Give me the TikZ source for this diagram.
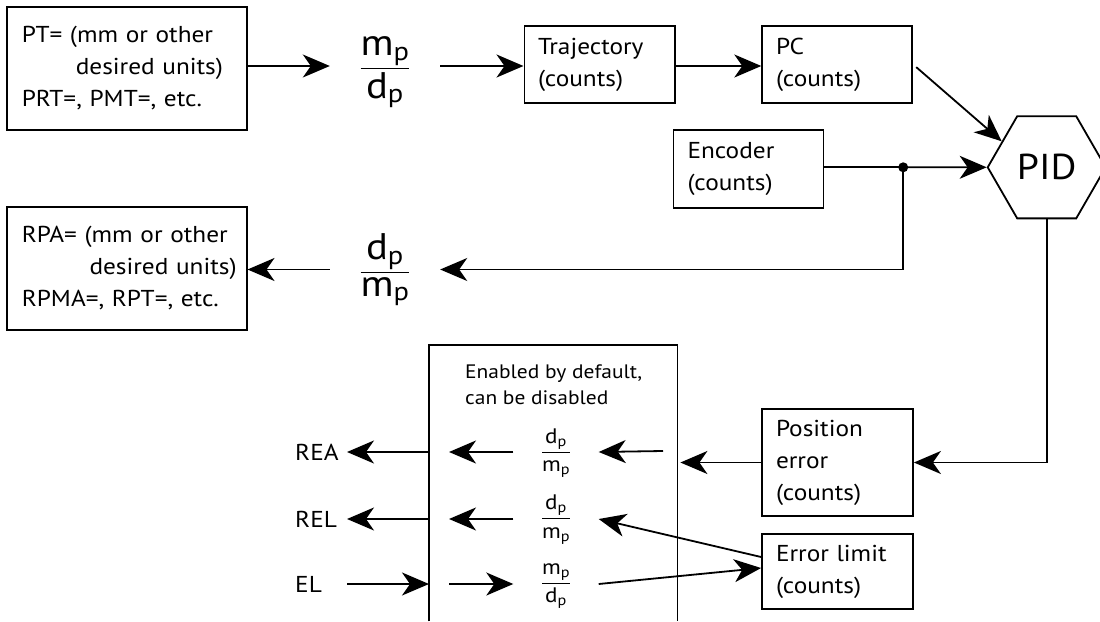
\documentclass[tikz,border=0pt]{standalone}
\usepackage{fontspec}
\setmainfont{PT Sans}[FakeStretch=1.1]
\usepackage{amsmath}
\usetikzlibrary{arrows.meta,shapes.geometric}
\begin{document}
\begin{tikzpicture}[x=1pt,y=-1pt,
  line/.style={line width=1.8pt},
  arr/.style={line, -{Stealth[length=27pt,width=23pt,inset=8pt]}},
  box/.style={draw, line width=1.8pt, inner sep=0pt, align=left, font=\fontsize{23}{32}\selectfont},
  bigfrac/.style={inner sep=0pt, minimum width=110pt, anchor=base, font=\fontsize{37}{44}\selectfont},
  smallfrac/.style={inner sep=0pt, minimum width=85pt, anchor=base, font=\fontsize{21}{25}\selectfont},
  lbl/.style={inner sep=0pt, anchor=west, font=\fontsize{23}{26}\selectfont}]
\useasboundingbox (0,0) rectangle (1100,621);

% boxes
\node[box, minimum width=239.6pt, minimum height=123pt, text width=210pt] (in) at (126.8,68.5)
  {\mbox{PT= (mm or other}\\\mbox{\hspace*{54pt}desired units)}\\\mbox{PRT=, PMT=, etc.}};
\node[box, minimum width=150.8pt, minimum height=77pt, text width=123.6pt] (traj) at (599.8,64.5)
  {Trajectory\\(counts)};
\node[box, minimum width=150.1pt, minimum height=77pt, text width=122.5pt] (pc) at (837.25,64.5)
  {PC\\(counts)};
\node[box, minimum width=150.1pt, minimum height=77.7pt, text width=122pt] (enc) at (748.5,168.9)
  {Encoder\\(counts)};
\node[box, minimum width=239.6pt, minimum height=123.3pt, text width=210pt] (out) at (126.8,268.3)
  {\mbox{RPA= (mm or other}\\\mbox{\hspace*{67.7pt}desired units)}\\\mbox{RPMA=, RPT=, etc.}};
\node[box, minimum width=151pt, minimum height=107pt, text width=123pt] (perr) at (837.5,462.5)
  {Position\\error\\(counts)};
\node[box, minimum width=151pt, minimum height=75pt, text width=123pt] (elim) at (837.5,571.5)
  {Error limit\\(counts)};
\node[draw, line, regular polygon, regular polygon sides=6, minimum size=118pt, inner sep=0pt,
  font=\fontsize{36}{40}\selectfont] (pid) at (1046.7,167.3) {PID};

% big open box
\node[minimum width=248pt, minimum height=276pt, inner sep=0pt, anchor=north west] (big) at (429,345) {};
\draw[line] (big.south west) |- (big.north east) -- (big.south east);
\node[inner sep=0pt, anchor=west, align=left, font=\fontsize{19.5}{26}\selectfont] (note) at (465,385)
  {Enabled by default,\\can be disabled};

% fractions
\node[bigfrac] (f1) at (385,75) {\(\dfrac{\text{m}_{\text{p}}}{\text{d}_{\text{p}}}\)};
\node[bigfrac] (f2) at (385,279) {\(\dfrac{\text{d}_{\text{p}}}{\text{m}_{\text{p}}}\)};
\node[smallfrac] (s1) at (556,457.5) {\(\dfrac{\text{d}_{\text{p}}}{\text{m}_{\text{p}}}\)};
\node[smallfrac] (s2) at (556,524) {\(\dfrac{\text{d}_{\text{p}}}{\text{m}_{\text{p}}}\)};
\node[smallfrac] (s3) at (556,588.5) {\(\dfrac{\text{m}_{\text{p}}}{\text{d}_{\text{p}}}\)};

% labels
\node[lbl] (rea) at (295,452) {REA};
\node[lbl] (rel) at (295,519) {REL};
\node[lbl] (el) at (295,584) {EL};

% helper coordinates
\coordinate (r1) at (0,66);
\coordinate (r2) at (0,269.5);
\coordinate (ra) at (0,452);
\coordinate (rb) at (0,519);
\coordinate (rc) at (0,584);
\coordinate (j) at (903.2,167.3);
\coordinate (ix) at (449,0);
\coordinate (ox) at (347,0);
\coordinate (t1) at (663,451);

% top chain
\draw[arr] (in.east |- r1) -- (f1.west |- r1);
\draw[arr] (f1.east |- r1) -- (traj.west |- r1);
\draw[arr] (traj.east |- r1) -- (pc.west |- r1);
\draw[arr, shorten <=4pt] (pc.east) -- (pid.150);
\draw[line] (enc.east |- j) -- (j);
\draw[arr] (j) -- (pid.west);
\fill (j) circle (5pt);
\draw[arr] (j) |- (f2.east |- r2);
\draw[arr] (f2.west |- r2) -- (out.east |- r2);

% error path
\draw[arr] (pid.south) |- (perr.east);
\draw[arr, shorten >=3pt] (perr.west) -- (big.east |- perr.west);

% row 1
\draw[arr] (t1) -- (s1.east |- ra);
\draw[arr] (s1.west |- ra) -- (ix |- ra);
\draw[arr] (big.west |- ra) -- (ox |- ra);
% row 2
\draw[arr] ([yshift=14.5pt]elim.west) -- (s2.east |- rb);
\draw[arr] (s2.west |- rb) -- (ix |- rb);
\draw[arr] (big.west |- rb) -- (ox |- rb);
% row 3
\draw[arr] (ox |- rc) -- (big.west |- rc);
\draw[arr] (ix |- rc) -- (s3.west |- rc);
\draw[arr] (s3.east |- rc) -- ([yshift=3.5pt]elim.west);
\end{tikzpicture}
\end{document}
